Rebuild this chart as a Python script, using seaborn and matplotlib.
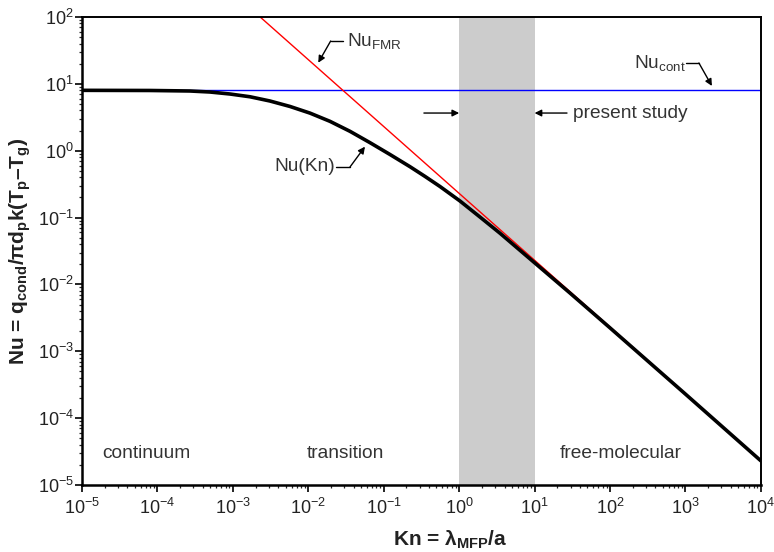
import numpy as np
import pandas as pd
import matplotlib
matplotlib.use("Agg")
import matplotlib.pyplot as plt
import seaborn as sns
from matplotlib.ticker import LogLocator, NullFormatter

# Knudsen numbers and the interpolated Nusselt number Nu(Kn)
kn_curve = [1e-5, 7.96e-5, 2.70e-4, 4.97e-4, 9.16e-4, 1.686e-3, 3.10e-3, 5.72e-3,
            1.053e-2, 1.938e-2, 3.57e-2, 6.57e-2, 0.121, 0.2227, 0.352, 0.5566,
            1.025, 1.887, 3.474, 9.80, 29.4, 100.0, 1000.0, 1e4]
nu_curve = [8.0, 7.96, 7.82, 7.55, 7.05, 6.41, 5.54, 4.59,
            3.65, 2.75, 1.95, 1.32, 0.878, 0.577, 0.413, 0.2917,
            0.177, 0.102, 0.0584, 0.0215, 0.00745, 0.00224, 2.29e-4, 2.3e-5]

# Continuum limit (horizontal line)
kn_cont = [1e-5, 1e4]
nu_cont = [8.0, 8.0]

# Free-molecular limit (slope -1)
kn_fmr = [2.3e-3, 1e4]
nu_fmr = [100.0, 2.3e-5]

# Knudsen range of the present study
study_range = [1.0, 10.0]

region_names = ["continuum", "transition", "free-molecular"]
region_kn = [7.1e-5, 0.0306, 140.0]
region_nu = 3.0e-5

sns.set_style("ticks")
plt.rcParams["font.family"] = ["Liberation Sans", "DejaVu Sans"]
plt.rcParams["mathtext.fontset"] = "custom"
plt.rcParams["mathtext.rm"] = "Liberation Sans"
plt.rcParams["mathtext.it"] = "Liberation Sans:italic"
plt.rcParams["mathtext.bf"] = "Liberation Sans:bold"

fig = plt.figure(figsize=(7.74, 5.52), dpi=100)
ax = fig.add_axes([0.106, 0.1214, 0.877, 0.8478])

ax.axvspan(study_range[0], study_range[1], color="#cccccc", lw=0, zorder=0)

df_curve = pd.DataFrame({"Kn": kn_curve, "Nu": nu_curve})
df_cont = pd.DataFrame({"Kn": kn_cont, "Nu": nu_cont})
df_fmr = pd.DataFrame({"Kn": kn_fmr, "Nu": nu_fmr})

sns.lineplot(data=df_cont, x="Kn", y="Nu", color="#0000ff", lw=1.0, ax=ax, zorder=2)
sns.lineplot(data=df_fmr, x="Kn", y="Nu", color="#ff0000", lw=1.0, ax=ax, zorder=2)
sns.lineplot(data=df_curve, x="Kn", y="Nu", color="black", lw=2.6, ax=ax, zorder=3)
for ln in ax.lines:
    ln.set_solid_joinstyle("round")

ax.set_xscale("log")
ax.set_yscale("log")
ax.set_xlim(1e-5, 1e4)
ax.set_ylim(1e-5, 1e2)

ax.xaxis.set_major_locator(LogLocator(base=10, numticks=20))
ax.yaxis.set_major_locator(LogLocator(base=10, numticks=20))
ax.xaxis.set_minor_locator(LogLocator(base=10, subs=np.arange(2, 10), numticks=20))
ax.yaxis.set_minor_locator(LogLocator(base=10, subs=np.arange(2, 10), numticks=20))
ax.xaxis.set_minor_formatter(NullFormatter())
ax.yaxis.set_minor_formatter(NullFormatter())

ax.tick_params(axis="both", which="major", direction="out", length=5, width=1.2,
               labelsize=13, colors="black", labelcolor="#222222")
ax.tick_params(axis="both", which="minor", direction="out", length=2.5, width=0.9)
ax.tick_params(axis="x", which="major", pad=4)
ax.tick_params(axis="y", which="major", pad=1)

for side in ["left", "bottom"]:
    ax.spines[side].set_linewidth(1.8)
for side in ["top", "right"]:
    ax.spines[side].set_linewidth(1.4)
for s in ax.spines.values():
    s.set_color("black")

ax.set_xlabel(r"Kn = λ$_{\mathbf{MFP}}$/a", fontsize=15, fontweight="bold", color="#222222")
ax.xaxis.set_label_coords(0.542, -0.093)
ax.set_ylabel(r"Nu = q$_{\mathbf{cond}}$/πd$_{\mathbf{p}}$k(T$_{\mathbf{p}}$–T$_{\mathbf{g}}$)",
              fontsize=15, fontweight="bold", color="#222222")
ax.yaxis.set_label_coords(-0.072, 0.5)

txt = dict(fontsize=13.8, color="#333333")
arr = dict(arrowstyle="-|>", color="black", lw=1.0, mutation_scale=10, shrinkA=0, shrinkB=0)

# Region labels
for name, k in zip(region_names, region_kn):
    ax.text(k, region_nu, name, ha="center", va="center", **txt)

# Nu_FMR label with bent leader
ax.text(0.0326, 43.8, r"Nu$_{\mathregular{FMR}}$", ha="left", va="center", **txt)
ax.plot([0.0285, 0.0198], [43.8, 43.8], color="black", lw=1.0)
ax.annotate("", xy=(0.01355, 20.7), xytext=(0.0198, 43.8), arrowprops=arr)

# Nu(Kn) label with bent leader
ax.text(0.0226, 0.571, "Nu(Kn)", ha="right", va="center", **txt)
ax.plot([0.0235, 0.0357], [0.571, 0.571], color="black", lw=1.0)
ax.annotate("", xy=(0.0564, 1.15), xytext=(0.0357, 0.571), arrowprops=arr)

# Nu_cont label with bent leader
ax.text(207, 20.5, r"Nu$_{\mathregular{cont}}$", ha="left", va="center", **txt)
ax.plot([1010, 1510], [20.5, 20.5], color="black", lw=1.0)
ax.annotate("", xy=(2244, 9.3), xytext=(1510, 20.5), arrowprops=arr)

# Present study range markers
ax.text(32.3, 3.66, "present study", ha="left", va="center", **txt)
ax.annotate("", xy=(study_range[1], 3.66), xytext=(26.9, 3.66), arrowprops=arr)
ax.annotate("", xy=(study_range[0], 3.66), xytext=(0.341, 3.66), arrowprops=arr)

fig.savefig("out.png", dpi=100)
